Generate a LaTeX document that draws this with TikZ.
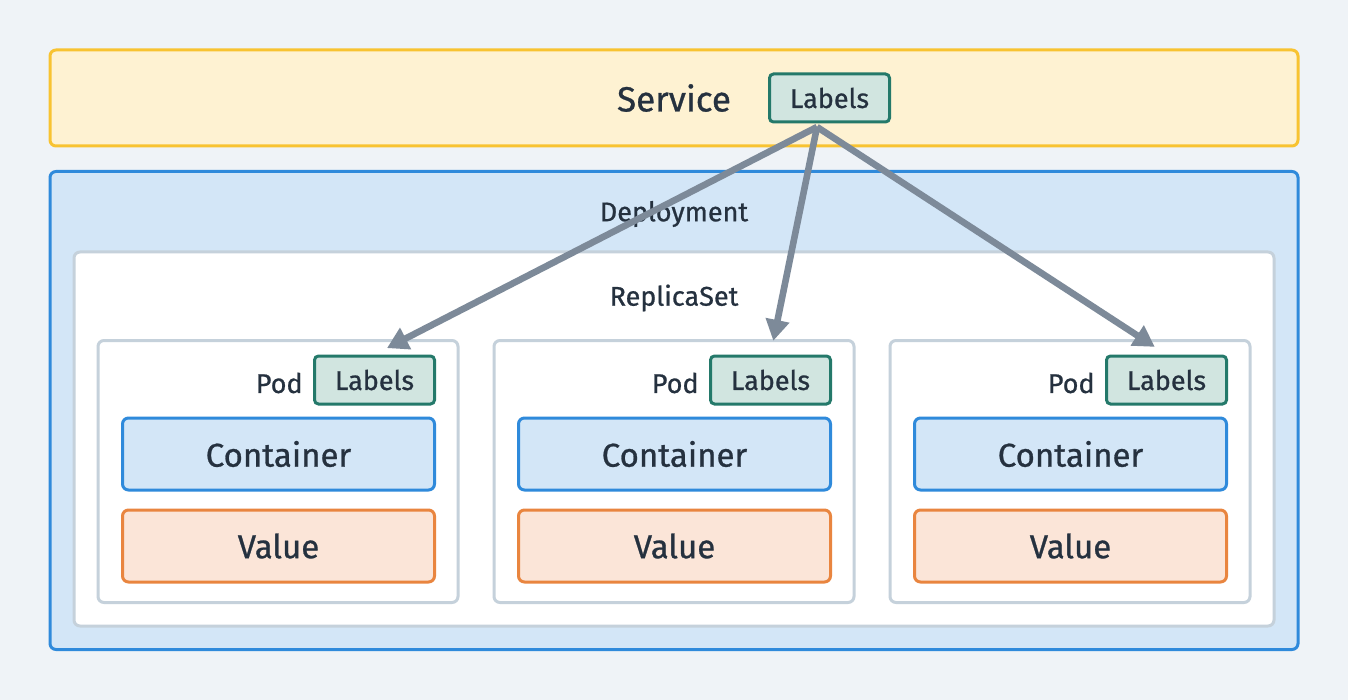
\documentclass[tikz,border=0pt]{standalone}
\usepackage{fontspec}
\setmainfont{Fira Sans}[FakeBold=0.8,UprightFeatures={FakeBold=0.8}]
\usetikzlibrary{arrows.meta,positioning}

\definecolor{bgcol}{HTML}{EFF3F7}
\definecolor{inkcol}{HTML}{25313F}
\definecolor{svcfill}{HTML}{FEF2D2}
\definecolor{svcline}{HTML}{F8C331}
\definecolor{depfill}{HTML}{D3E6F7}
\definecolor{depline}{HTML}{2F8ADB}
\definecolor{rsline}{HTML}{C5D1DB}
\definecolor{lblfill}{HTML}{D1E5E0}
\definecolor{lblline}{HTML}{24796A}
\definecolor{valfill}{HTML}{FBE5D8}
\definecolor{valline}{HTML}{E9853F}
\definecolor{arrcol}{HTML}{7D8A99}

\begin{document}
\begin{tikzpicture}[x=0.5pt,y=-0.5pt,>=Triangle,
  frame/.style={draw,line width=1.5pt,rounded corners=3pt,inner sep=0pt},
  servicebox/.style={frame,draw=svcline,fill=svcfill,minimum width=624pt,minimum height=48pt},
  deploybox/.style={frame,draw=depline,fill=depfill,minimum width=624pt,minimum height=239pt},
  replicabox/.style={frame,draw=rsline,fill=white,minimum width=600pt,minimum height=187pt},
  podbox/.style={frame,draw=rsline,fill=white,minimum width=180pt,minimum height=131pt},
  lblbox/.style={frame,draw=lblline,fill=lblfill,rounded corners=2pt,minimum width=60pt,minimum height=24pt,font=\fontsize{13.5}{15}\selectfont,text=inkcol},
  ctrbox/.style={frame,draw=depline,fill=depfill,minimum width=156pt,minimum height=36pt,font=\fontsize{16.5}{18}\selectfont,text=inkcol},
  valbox/.style={frame,draw=valline,fill=valfill,minimum width=156pt,minimum height=36pt,font=\fontsize{16.5}{18}\selectfont,text=inkcol},
  title/.style={text=inkcol,inner sep=0pt,font=\fontsize{13.5}{15}\selectfont},
  link/.style={->,draw=arrcol,line width=3.3pt,shorten >=7pt,arrows={-Triangle[length=10.5pt,width=11.5pt]}}]
\fill[bgcol] (0,0) rectangle (1348,700);
\useasboundingbox (0,0) rectangle (1348,700);
% service
\node[servicebox] (svc) at (674,98) {};
\node[title,font=\fontsize{17.5}{20}\selectfont] (svctxt) at (674,98) {Service};
\node[lblbox] (svclbl) at (829.5,98) {Labels};
% deployment and replicaset
\node[deploybox] (dep) at (674,410.5) {};
\node[title] (deptxt) at (674,214) {Deployment};
\node[replicabox] (rs) at (674,439) {};
\node[title] (rstxt) at (674,298) {ReplicaSet};
% pods
\node[podbox] (pod1) at (278,471.5) {};
\node[podbox] (pod2) at (674,471.5) {};
\node[podbox] (pod3) at (1070,471.5) {};
\node[lblbox] (lbl1) at (374.5,380) {Labels};
\node[lblbox] (lbl2) at (770.5,380) {Labels};
\node[lblbox] (lbl3) at (1166.5,380) {Labels};
\node[title,anchor=east] (podtxt1) at (303,383) {Pod};
\node[title,anchor=east] (podtxt2) at (699,383) {Pod};
\node[title,anchor=east] (podtxt3) at (1095,383) {Pod};
\node[ctrbox] (ctr1) at (278.5,454) {Container};
\node[ctrbox] (ctr2) at (674.5,454) {Container};
\node[ctrbox] (ctr3) at (1070.5,454) {Container};
\node[valbox] (val1) at (278.5,546) {Value};
\node[valbox] (val2) at (674.5,546) {Value};
\node[valbox] (val3) at (1070.5,546) {Value};
% selectors
\coordinate (src) at (817,127);
\draw[link] (src) -- (lbl1.north);
\draw[link] (src) -- (lbl2.north);
\draw[link] (src) -- (lbl3.north);
\end{tikzpicture}
\end{document}
